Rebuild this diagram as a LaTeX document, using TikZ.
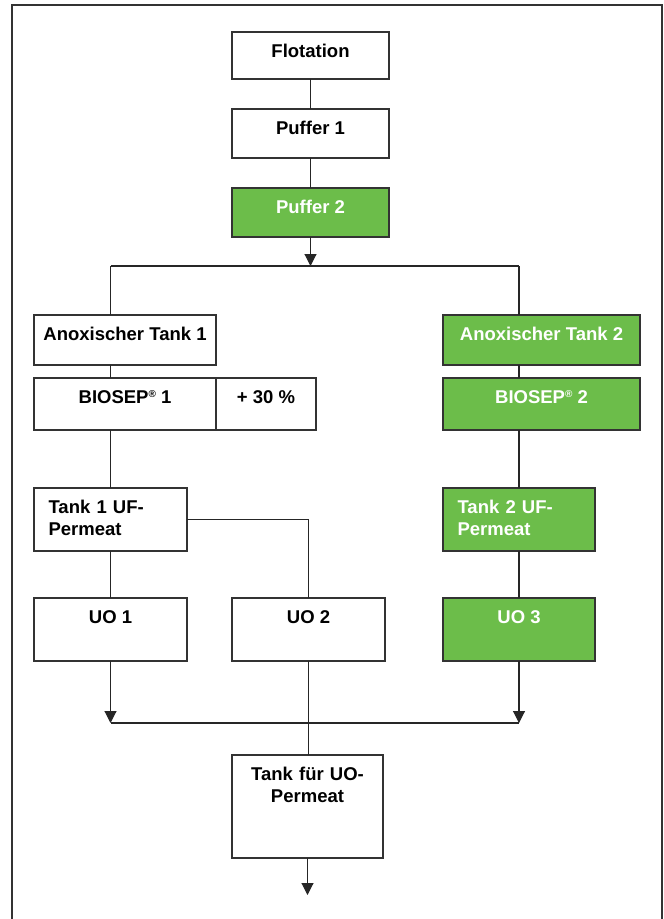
\documentclass[tikz,border=0pt]{standalone}
\usepackage{fontspec}
\setmainfont{Liberation Sans}
\usetikzlibrary{arrows.meta}
\definecolor{biogreen}{RGB}{108,189,74}

\begin{document}
\begin{tikzpicture}[x=1pt, y=-1pt, line width=1.1pt, draw=black!85,
  box/.style={draw=black!80, line width=1.3pt, fill=white, anchor=north west, inner sep=0pt, outer sep=0pt},
  greenbox/.style={box, fill=biogreen},
  lbl/.style={font=\fontsize{18.5}{22}\selectfont\bfseries, anchor=base, inner sep=0pt, yshift=-25.5pt},
  wlbl/.style={lbl, text=white},
  flow/.style={-{Triangle[width=12pt,length=12pt]}}]
\useasboundingbox (0,0) rectangle (664,919);
% outer frame, open at the bottom
\draw[black!80, line width=1.5pt] (12,919) -- (12,5) -- (662,5) -- (662,919);

% stages
\node[box, minimum width=157pt, minimum height=47pt] (flot) at (232,32) {};
\node[box, minimum width=157pt, minimum height=49pt] (puf1) at (232,109) {};
\node[greenbox, minimum width=157pt, minimum height=49pt] (puf2) at (232,188) {};
\node[box, minimum width=182pt, minimum height=50pt] (anox1) at (34,315) {};
\node[box, minimum width=182pt, minimum height=52pt] (bio1) at (34,378) {};
\node[box, minimum width=100pt, minimum height=52pt] (plus) at (216,378) {};
\node[greenbox, minimum width=197pt, minimum height=50pt] (anox2) at (443,315) {};
\node[greenbox, minimum width=197pt, minimum height=52pt] (bio2) at (443,378) {};
\node[box, minimum width=153pt, minimum height=63pt] (tuf1) at (34,488) {};
\node[greenbox, minimum width=152pt, minimum height=63pt] (tuf2) at (443,488) {};
\node[box, minimum width=153pt, minimum height=63pt] (uo1) at (34,598) {};
\node[box, minimum width=153pt, minimum height=63pt] (uo2) at (232,598) {};
\node[greenbox, minimum width=152pt, minimum height=63pt] (uo3) at (443,598) {};
\node[box, minimum width=151pt, minimum height=103pt] (tank) at (232,755) {};

% labels
\node[lbl] (tflot) at (flot.north) {Flotation};
\node[lbl] (tpuf1) at (puf1.north) {Puffer 1};
\node[wlbl] (tpuf2) at (puf2.north) {Puffer 2};
\node[lbl] (tanox1) at (anox1.north) {Anoxischer Tank 1};
\node[lbl] (tbio1) at (bio1.north) {BIOSEP\raisebox{6.5pt}{\fontsize{10}{10}\selectfont\textregistered} 1};
\node[lbl] (tplus) at (plus.north) {+ 30 \%};
\node[wlbl] (tanox2) at (anox2.north) {Anoxischer Tank 2};
\node[wlbl] (tbio2) at (bio2.north) {BIOSEP\raisebox{6.5pt}{\fontsize{10}{10}\selectfont\textregistered} 2};
\node[lbl, anchor=base west, xshift=14pt, text width=135pt, align=left] (ttuf1) at (tuf1.north west) {Tank 1 UF-\\Permeat};
\node[wlbl, anchor=base west, xshift=14pt, text width=135pt, align=left] (ttuf2) at (tuf2.north west) {Tank 2 UF-\\Permeat};
\node[lbl] (tuo1) at (uo1.north) {UO 1};
\node[lbl] (tuo2) at (uo2.north) {UO 2};
\node[wlbl] (tuo3) at (uo3.north) {UO 3};
\node[lbl, text width=151pt, align=center] (ttank) at (tank.north) {Tank für UO-\\Permeat};

% connectors
\coordinate (split) at (308,266);
\coordinate (merge) at (307,723);
\coordinate (out) at (307,895);
\draw (flot) -- (puf1);
\draw (puf1) -- (puf2);
\draw[flow] (puf2) -- (puf2 |- split);
\draw (tuf1 |- split) -- (tuf2 |- split);
\draw (tuf1 |- split) -- (tuf1 |- anox1.north);
\draw (tuf2 |- split) -- (tuf2 |- anox2.north);
\draw (tuf1 |- anox1.south) -- (tuf1 |- bio1.north);
\draw (tuf2 |- anox2.south) -- (tuf2 |- bio2.north);
\draw (tuf1 |- bio1.south) -- (tuf1);
\draw (tuf2 |- bio2.south) -- (tuf2);
\draw (tuf1) -- (uo1);
\draw (tuf2) -- (uo3);
\draw (tuf1.east) -| (uo2);
\draw[flow] (uo1) -- (uo1 |- merge);
\draw[flow] (uo3) -- (uo3 |- merge);
\draw (uo1 |- merge) -- (uo3 |- merge);
\draw (uo2.south) -- (uo2.south |- tank.north);
\draw[flow] (tank) -- (tank |- out);
\end{tikzpicture}
\end{document}
